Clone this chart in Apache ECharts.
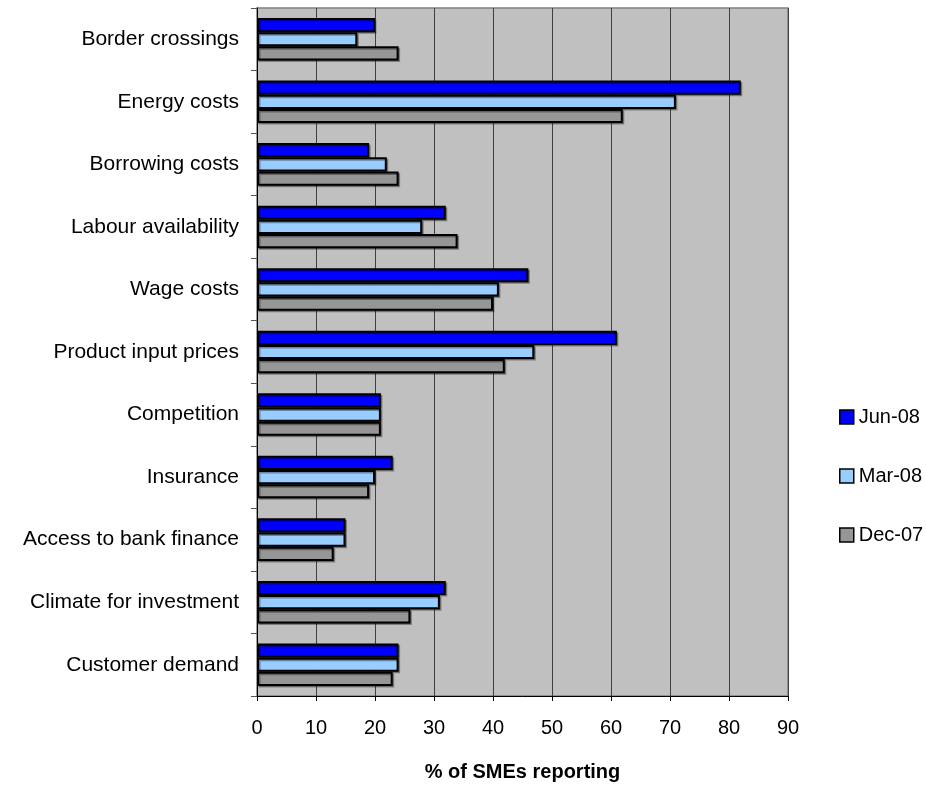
<!DOCTYPE html>
<html><head><meta charset="utf-8">
<script src="https://cdn.jsdelivr.net/npm/echarts@6/dist/echarts.min.js"></script>
<style>html,body{margin:0;padding:0;background:#fff}#c{width:926px;height:787px}</style>
</head><body><div id="c"></div>
<script>
const categories = ["Border crossings","Energy costs","Borrowing costs","Labour availability","Wage costs","Product input prices","Competition","Insurance","Access to bank finance","Climate for investment","Customer demand"];
const jun08 = [20,82,19,32,46,61,21,23,15,32,24];
const mar08 = [17,71,22,28,41,47,21,20,15,31,24];
const dec07 = [24,62,24,34,40,42,21,19,13,26,23];
const xTicks = [0,10,20,30,40,50,60,70,80,90];

const font = "Liberation Sans, Arial, sans-serif";
const chart = echarts.init(document.getElementById('c'));
function bar(name, data, color){
  return {name, type:'bar', data, barGap:'0%', barCategoryGap:'32%',
    itemStyle:{color, borderColor:'#000', borderWidth:2,
      shadowColor:'rgba(0,0,0,0.35)', shadowOffsetX:1.5, shadowOffsetY:1.5, shadowBlur:0}};
}
chart.setOption({
  animation:false,
  grid:{left:257, right:138, top:8, bottom:88, show:true, backgroundColor:'#C0C0C0', borderColor:'#808080', borderWidth:1.5},
  legend:{orient:'vertical', left:834, top:402, itemGap:39, itemWidth:14, itemHeight:14,
    icon:'rect', textStyle:{fontFamily:font, fontSize:20, color:'#000'},
    itemStyle:{borderColor:'#000', borderWidth:1.5},
    data:['Jun-08','Mar-08','Dec-07']},
  xAxis:{type:'value', min:0, max:90, interval:10,
    name:'% of SMEs reporting', nameLocation:'middle', nameGap:66,
    nameTextStyle:{fontFamily:font, fontSize:20, fontWeight:'bold', color:'#000'},
    axisLine:{show:true, lineStyle:{color:'#000', width:1}},
    axisTick:{show:true, length:5, lineStyle:{color:'#000'}},
    axisLabel:{fontFamily:font, fontSize:20, color:'#000', margin:22,
      formatter:v=>xTicks.includes(v)?String(v):''},
    splitLine:{show:true, lineStyle:{color:'#404040', width:1}}},
  yAxis:{type:'category', data:categories, inverse:true,
    axisLine:{show:true, lineStyle:{color:'#000', width:1}},
    axisTick:{show:true, length:6, lineStyle:{color:'#555'}},
    axisLabel:{fontFamily:font, fontSize:21, color:'#000', margin:18},
    splitLine:{show:false}},
  series:[bar('Jun-08', jun08, '#0000FF'), bar('Mar-08', mar08, '#99CCFF'), bar('Dec-07', dec07, '#969696')]
});
</script></body></html>
